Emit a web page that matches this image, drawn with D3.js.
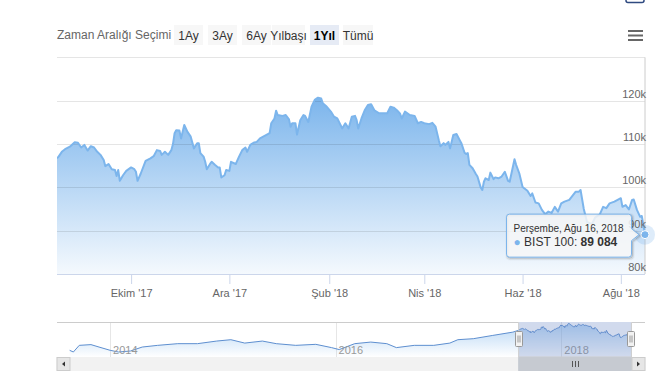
<!DOCTYPE html>
<html>
<head>
<meta charset="utf-8">
<script src="https://cdn.jsdelivr.net/npm/d3@7"></script>
<style>
  body { margin: 0; background: #fff; }
  svg { display: block; font-family: "Lucida Grande", "Lucida Sans Unicode", Arial, Helvetica, sans-serif; }
</style>
</head>
<body>
<script>
// BIST 100, son 1 yıl (range selector "1Yıl")
const dates = [
  "2017-08-16","2017-08-17","2017-08-19","2017-08-21","2017-08-24","2017-08-27","2017-08-29","2017-08-31",
  "2017-09-02","2017-09-04","2017-09-06","2017-09-08","2017-09-10","2017-09-12","2017-09-14","2017-09-15",
  "2017-09-17","2017-09-19","2017-09-21","2017-09-22","2017-09-23","2017-09-24","2017-09-26","2017-09-28",
  "2017-10-01","2017-10-03","2017-10-04","2017-10-05","2017-10-07","2017-10-10","2017-10-13","2017-10-15",
  "2017-10-17","2017-10-19","2017-10-20","2017-10-22","2017-10-24","2017-10-26","2017-10-27","2017-10-28",
  "2017-10-29","2017-10-31",
  "2017-11-01","2017-11-03","2017-11-05","2017-11-07","2017-11-09","2017-11-11","2017-11-12","2017-11-13",
  "2017-11-15","2017-11-16","2017-11-17","2017-11-19","2017-11-20","2017-11-22","2017-11-24","2017-11-25",
  "2017-11-26","2017-11-28","2017-11-29",
  "2017-12-01","2017-12-02","2017-12-05","2017-12-07","2017-12-09","2017-12-11","2017-12-12","2017-12-14",
  "2017-12-16","2017-12-18","2017-12-20","2017-12-22","2017-12-24","2017-12-26","2017-12-27","2017-12-29",
  "2017-12-30","2017-12-31",
  "2018-01-03","2018-01-05","2018-01-07","2018-01-08","2018-01-09","2018-01-11","2018-01-12","2018-01-14",
  "2018-01-16","2018-01-17","2018-01-19","2018-01-21","2018-01-23","2018-01-25","2018-01-27","2018-01-28",
  "2018-01-30",
  "2018-02-02","2018-02-04","2018-02-06","2018-02-08","2018-02-09","2018-02-11","2018-02-13","2018-02-15",
  "2018-02-17","2018-02-18","2018-02-19","2018-02-21","2018-02-23","2018-02-25","2018-02-27",
  "2018-03-01","2018-03-04","2018-03-07","2018-03-09","2018-03-11","2018-03-13","2018-03-15","2018-03-17",
  "2018-03-18","2018-03-20","2018-03-23","2018-03-26","2018-03-28","2018-03-30",
  "2018-04-01","2018-04-04","2018-04-06","2018-04-08","2018-04-10","2018-04-11","2018-04-13","2018-04-14",
  "2018-04-16","2018-04-17","2018-04-19","2018-04-21","2018-04-23","2018-04-24","2018-04-26","2018-04-27",
  "2018-04-28","2018-04-29",
  "2018-05-01","2018-05-03","2018-05-04","2018-05-06","2018-05-07","2018-05-08","2018-05-09","2018-05-11",
  "2018-05-12","2018-05-14","2018-05-15","2018-05-17","2018-05-19","2018-05-21","2018-05-23","2018-05-24",
  "2018-05-27","2018-05-28","2018-05-30",
  "2018-06-01","2018-06-04","2018-06-06","2018-06-07","2018-06-09","2018-06-11","2018-06-13","2018-06-15",
  "2018-06-17","2018-06-19","2018-06-21","2018-06-23","2018-06-25","2018-06-27","2018-06-30",
  "2018-07-04","2018-07-06","2018-07-07","2018-07-09","2018-07-11","2018-07-14","2018-07-16","2018-07-19",
  "2018-07-21","2018-07-23","2018-07-25","2018-07-28",
  "2018-08-01","2018-08-02","2018-08-04","2018-08-06","2018-08-08","2018-08-09","2018-08-11","2018-08-13",
  "2018-08-14","2018-08-15","2018-08-16"
]

const values = [
  106700,107100,108200,108800,109400,110400,110300,109200,
  109800,108500,109500,109200,108200,107500,106300,104900,
  105400,104200,104000,102600,104000,101500,102800,103800,
  104600,104200,103600,101500,103200,106100,106700,107200,
  108600,108400,107500,108200,107500,108600,110000,112500,
  113200,113100,
  111300,114400,112800,111700,109000,110200,110200,107900,
  107100,105900,104200,105400,105900,105200,104600,104600,
  102300,102800,104000,
  103800,105900,105400,107100,108600,109200,108200,109800,
  110300,110500,111300,111700,112100,112500,114800,115900,
  117700,116700,
  116500,116700,115700,114000,114800,114800,112200,115500,
  116700,116500,115100,118600,120200,120700,120500,119400,
  118800,
  117500,116300,115900,114400,113600,114800,113600,116300,
  116500,115500,113600,115900,117800,119000,119200,
  117800,117100,117100,117100,118600,118400,117800,117000,
  115900,117500,116700,116500,114800,115100,
  114800,114600,114900,114000,110900,109500,110200,109800,
  110500,109000,112100,112300,110900,110200,108000,107700,
  107900,105200,
  104400,103100,102500,100000,99400,101300,102100,101700,
  103400,101900,102300,102100,102500,103600,101500,101300,
  106500,105200,103200,
  100100,99200,98000,98600,96500,96300,94800,93800,
  94400,94100,95500,94400,96300,96700,97100,
  99000,99000,99400,95000,92000,91500,93000,93800,
  95500,95200,96300,96700,
  97500,95500,95900,94900,97100,97200,94800,93200,
  93400,91300,89084
]

// navigator: older history before the 1Y window
const nav_dates = [
  "2013-08-23","2013-09-04","2013-09-23","2013-10-31","2013-11-26","2014-01-01","2014-01-28","2014-03-08",
  "2014-04-15","2014-06-04","2014-08-08","2014-10-11","2014-12-12","2015-01-27","2015-03-13","2015-05-09",
  "2015-06-23","2015-08-25","2015-10-29","2015-12-19","2016-01-13","2016-03-03","2016-04-24","2016-06-15",
  "2016-07-16","2016-09-12","2016-11-14","2017-01-05","2017-01-31","2017-03-22","2017-05-24","2017-07-28"
]
const nav_values = [
  65100,61600,75400,76900,71900,65100,61600,63700,
  71900,75400,78900,78900,84300,87100,80100,84300,
  78900,75400,77500,70700,66600,78900,82200,78900,
  70700,75400,75400,80100,87100,89200,96000,102800
]

const tick_dates = ["2017-10-01","2017-12-01","2018-02-01","2018-04-01","2018-06-01","2018-08-01"]
const y_ticks = [80000, 90000, 100000, 110000, 120000, 130000]
const nav_year_ticks = ["2014-01-01","2016-01-01","2018-01-01"]
const buttons = ["1Ay","3Ay","6Ay","Yılbaşı","1Yıl","Tümü"]
const selected_button = "1Yıl"
const series_name = "BIST 100"

const width = 660, height = 372
const plot = {left: 57, right: 645, top: 57.4, bottom: 274}
const nav = {left: 57, right: 645, top: 322, bottom: 357}
const color = "#7cb5ec"

let tr = d3.timeFormatLocale({
  dateTime: "%a %d %b %Y %X", date: "%d.%m.%Y", time: "%H:%M:%S",
  periods: ["", ""],
  days: ["Pazar","Pazartesi","Salı","Çarşamba","Perşembe","Cuma","Cumartesi"],
  shortDays: ["Paz","Pzt","Sal","Çar","Per","Cum","Cmt"],
  months: ["Ocak","Şubat","Mart","Nisan","Mayıs","Haziran","Temmuz","Ağustos","Eylül","Ekim","Kasım","Aralık"],
  shortMonths: ["Oca","Şub","Mar","Nis","May","Haz","Tem","Ağu","Eyl","Ekim","Kas","Ara"]
})
let num = d3.formatLocale({decimal: ",", thousands: " ", grouping: [3], currency: ["", " ₺"]})

let parse = d3.timeParse("%Y-%m-%d")
let data = dates.map((d, i) => ({date: parse(d), value: values[i]}))
let nav_data = nav_dates.map((d, i) => ({date: parse(d), value: nav_values[i]})).concat(data)

const svg = d3.select("body").append("svg")
  .attr("width", width)
  .attr("height", height)

let defs = svg.append("defs")
let grad = defs.append("linearGradient").attr("id", "area-grad")
  .attr("x1", 0).attr("y1", 0).attr("x2", 0).attr("y2", 1)
grad.append("stop").attr("offset", 0).attr("stop-color", color).attr("stop-opacity", 1)
grad.append("stop").attr("offset", 1).attr("stop-color", color).attr("stop-opacity", 0.08)

let ngrad = defs.append("linearGradient").attr("id", "nav-grad")
  .attr("x1", 0).attr("y1", 0).attr("x2", 0).attr("y2", 1)
ngrad.append("stop").attr("offset", 0).attr("stop-color", color).attr("stop-opacity", 0.55)
ngrad.append("stop").attr("offset", 1).attr("stop-color", color).attr("stop-opacity", 0)

defs.append("clipPath").attr("id", "plot-clip")
  .append("rect").attr("x", plot.left).attr("y", plot.top - 2)
  .attr("width", plot.right - plot.left + 2).attr("height", plot.bottom - plot.top + 2)

// ---- range selector ----
svg.append("text")
  .attr("x", 57).attr("y", 39)
  .attr("fill", "#666").style("font-size", "12px")
  .text("Zaman Aralığı Seçimi")

let btn_x = [174, 208, 242, 272, 310, 343]
let btn_w = [29, 29, 29, 33, 29, 30]
let btn = svg.append("g").selectAll("g")
  .data(buttons)
  .join("g")
    .attr("transform", (d, i) => `translate(${btn_x[i]},25)`)
btn.append("rect")
  .attr("width", (d, i) => btn_w[i]).attr("height", 20)
  .attr("fill", d => d === selected_button ? "#e6ebf5" : "#f7f7f7")
btn.append("text")
  .attr("x", (d, i) => btn_w[i] / 2).attr("y", 14.5)
  .attr("text-anchor", "middle")
  .style("font-size", "12px")
  .attr("fill", d => d === selected_button ? "#000" : "#333")
  .style("font-weight", d => d === selected_button ? "bold" : "normal")
  .text(d => d)

// context menu icon
svg.append("g").attr("stroke", "#666").attr("stroke-width", 2)
  .selectAll("line").data([31, 35.5, 40]).join("line")
    .attr("x1", 628).attr("x2", 643).attr("y1", d => d).attr("y2", d => d)
svg.append("path")
  .attr("d", "M626,-4V0.5Q626,2.5 628,2.5H642Q644,2.5 644,0.5V-4")
  .attr("fill", "none").attr("stroke", "#2f4a80").attr("stroke-width", 1.5)

// ---- main chart ----
let x = d3.scaleTime().domain(d3.extent(data, d => d.date)).range([plot.left, plot.right])
let y = d3.scaleLinear().domain([y_ticks[0], y_ticks[y_ticks.length - 1]]).range([plot.bottom, plot.top])

let area = d3.area().x(d => x(d.date)).y0(plot.bottom).y1(d => y(d.value))
let line = d3.line().x(d => x(d.date)).y(d => y(d.value))

svg.append("path")
  .datum(data)
  .attr("clip-path", "url(#plot-clip)")
  .attr("fill", "url(#area-grad)")
  .attr("d", area)

svg.append("g")
  .selectAll("line")
  .data(y_ticks.slice(1))
  .join("line")
    .attr("x1", plot.left).attr("x2", plot.right)
    .attr("y1", d => Math.round(y(d)) + 0.5).attr("y2", d => Math.round(y(d)) + 0.5)
    .attr("stroke", "rgba(0,0,0,0.1)")

// crosshair on the hovered (last) point
let last = data[data.length - 1]
svg.append("line")
  .attr("x1", x(last.date)).attr("x2", x(last.date))
  .attr("y1", plot.top).attr("y2", plot.bottom)
  .attr("stroke", "#cccccc")

svg.append("path")
  .datum(data)
  .attr("clip-path", "url(#plot-clip)")
  .attr("fill", "none")
  .attr("stroke", color)
  .attr("stroke-width", 2)
  .attr("stroke-linejoin", "round")
  .attr("d", line)

// y labels (inside, right)
svg.append("g")
  .selectAll("text")
  .data(y_ticks.slice(0, -1))
  .join("text")
    .attr("x", plot.right + 1).attr("y", d => y(d) - 3)
    .attr("text-anchor", "end")
    .attr("fill", "#666").style("font-size", "11px")
    .text(d => d / 1000 + "k")

// x axis
let xAxis = g => g
  .attr("transform", `translate(0,${plot.bottom})`)
  .call(d3.axisBottom(x)
    .tickValues(tick_dates.map(parse))
    .tickFormat(tr.format("%b '%y"))
    .tickSize(10)
    .tickPadding(5))
  .call(g => g.select(".domain").attr("stroke", "#ccd6eb").attr("d", `M${plot.left},0.5H${plot.right}`))
  .call(g => g.selectAll(".tick line").attr("stroke", "#ccd6eb"))
  .call(g => g.selectAll(".tick text").attr("fill", "#666").style("font-size", "11px")
    .style("font-family", null))

svg.append("g").call(xAxis)

// ---- navigator ----
let nx = d3.scaleTime()
  .domain([parse("2013-07-13"), parse("2018-09-29")])
  .range([nav.left, nav.right])
let ny = d3.scaleLinear()
  .domain(d3.extent(nav_data, d => d.value))
  .range([352, 323.5])

svg.append("g")
  .selectAll("line")
  .data(nav_year_ticks.map(parse))
  .join("line")
    .attr("x1", d => Math.round(nx(d)) + 0.5).attr("x2", d => Math.round(nx(d)) + 0.5)
    .attr("y1", nav.top).attr("y2", nav.bottom)
    .attr("stroke", "#e6e6e6")

svg.append("path")
  .datum(nav_data)
  .attr("fill", "url(#nav-grad)")
  .attr("d", d3.area().x(d => nx(d.date)).y0(nav.bottom).y1(d => ny(d.value)))

svg.append("path")
  .datum(nav_data)
  .attr("fill", "none")
  .attr("stroke", "#5e8fd0")
  .attr("stroke-width", 1)
  .attr("d", d3.line().x(d => nx(d.date)).y(d => ny(d.value)))

svg.append("g")
  .selectAll("text")
  .data(nav_year_ticks.map(parse))
  .join("text")
    .attr("x", d => nx(d) + 3).attr("y", 354)
    .attr("fill", "#999").style("font-size", "11px")
    .text(d => d3.timeFormat("%Y")(d))

let sel0 = nx(data[0].date), sel1 = nx(last.date)

svg.append("rect")
  .attr("x", sel0).attr("y", nav.top)
  .attr("width", sel1 - sel0).attr("height", nav.bottom - nav.top)
  .attr("fill", "rgba(102,133,194,0.3)")

svg.append("path")
  .attr("d", `M${nav.left},${nav.top + 0.5}H${sel0}V${nav.bottom}H${sel1}V${nav.top + 0.5}H${nav.right}`)
  .attr("fill", "none").attr("stroke", "#cccccc")

let handle = svg.append("g").selectAll("g")
  .data([sel0, sel1])
  .join("g")
    .attr("transform", d => `translate(${Math.round(d) - 3.5},331.5)`)
handle.append("rect")
  .attr("width", 7).attr("height", 15).attr("rx", 1)
  .attr("fill", "#f2f2f2").attr("stroke", "#999")
handle.append("path")
  .attr("d", "M2.5,4V11M4.5,4V11")
  .attr("stroke", "#999")

// scrollbar
let sb = {top: 357.5, h: 13}
svg.append("rect")
  .attr("x", nav.left).attr("y", sb.top).attr("width", nav.right - nav.left).attr("height", sb.h)
  .attr("fill", "#f2f2f2").attr("stroke", "#f2f2f2")
svg.append("rect")
  .attr("x", sel0).attr("y", sb.top).attr("width", sel1 - sel0).attr("height", sb.h)
  .attr("fill", "#c6cad1").attr("stroke", "#c6cad1")
svg.append("path")
  .attr("d", [-3, 0, 3].map(o => `M${Math.round((sel0 + sel1) / 2) + o + 0.5},${sb.top + 3.5}v6`).join(""))
  .attr("stroke", "#555").attr("stroke-width", 1)

let sbtn = svg.append("g").selectAll("g")
  .data([{x: nav.left, dir: -1}, {x: nav.right - 13, dir: 1}])
  .join("g")
    .attr("transform", d => `translate(${d.x},${sb.top})`)
sbtn.append("rect")
  .attr("width", 13).attr("height", sb.h)
  .attr("fill", "#e6e6e6").attr("stroke", "#cccccc")
sbtn.append("path")
  .attr("d", d => d.dir < 0 ? "M8,4L5,6.5L8,9Z" : "M5,4L8,6.5L5,9Z")
  .attr("fill", "#333")

// ---- hover marker + tooltip ----
let px = x(last.date), py = y(last.value)
svg.append("circle").attr("cx", px).attr("cy", py).attr("r", 10)
  .attr("fill", color).attr("opacity", 0.25)
svg.append("circle").attr("cx", px).attr("cy", py).attr("r", 4)
  .attr("fill", color).attr("stroke", "#fff")

let bw = 125, bh = 43
let bx = px - 138.5, by = py - 20.5
let r = 3
let callout = `M${bx + r},${by}H${bx + bw - r}Q${bx + bw},${by} ${bx + bw},${by + r}` +
  `V${py - 6}L${px - 6},${py}L${bx + bw},${py + 6}` +
  `V${by + bh - r}Q${bx + bw},${by + bh} ${bx + bw - r},${by + bh}H${bx + r}` +
  `Q${bx},${by + bh} ${bx},${by + bh - r}V${by + r}Q${bx},${by} ${bx + r},${by}Z`

let tip = svg.append("g")
;[5, 3, 1].forEach(w => tip.append("path")
  .attr("d", callout).attr("transform", "translate(1,1)")
  .attr("fill", "none").attr("stroke", "#000").attr("stroke-opacity", 0.05 * (6 - w) / 2)
  .attr("stroke-width", w))
tip.append("path")
  .attr("d", callout)
  .attr("fill", "rgba(247,247,247,0.85)")
  .attr("stroke", color)
tip.append("text")
  .attr("x", bx + 7).attr("y", by + 17.5)
  .attr("fill", "#333").style("font-size", "10px")
  .text(tr.format("%A, %b %-d, %Y")(last.date))
let t2 = tip.append("text")
  .attr("x", bx + 7).attr("y", by + 32)
  .attr("fill", "#333").style("font-size", "12px")
t2.append("tspan").attr("fill", color).text("● ")
t2.append("tspan").text(series_name + ": ")
t2.append("tspan").style("font-weight", "bold").text(num.format(",")(last.value))
</script>
</body>
</html>
